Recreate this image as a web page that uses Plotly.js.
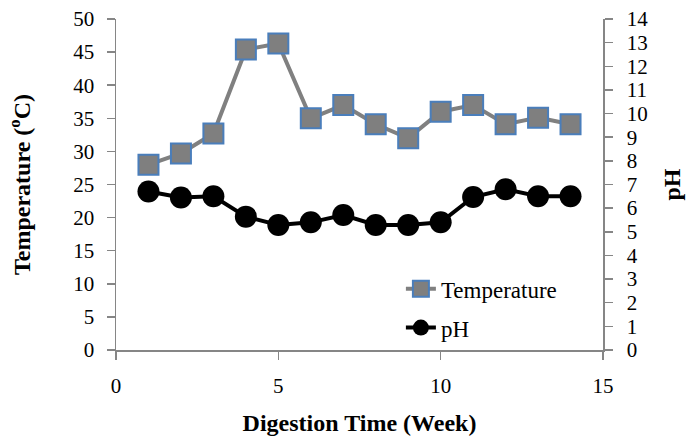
<!DOCTYPE html>
<html>
<head>
<meta charset="utf-8">
<script src="https://cdn.plot.ly/plotly-3.0.1.min.js"></script>
<style>html,body{margin:0;padding:0;background:#fff;}#chart{width:686px;height:436px;}</style>
</head>
<body>
<div id="chart"></div>
<script>
var weeks = [1, 2, 3, 4, 5, 6, 7, 8, 9, 10, 11, 12, 13, 14];
var temperature = [28, 29.7, 32.7, 45.4, 46.3, 35, 37, 34.1, 32, 36, 37, 34.1, 35.1, 34.1];
var pH = [6.7, 6.45, 6.5, 5.64, 5.29, 5.4, 5.71, 5.29, 5.29, 5.4, 6.47, 6.8, 6.5, 6.5];
var xTitle = 'Digestion Time (Week)';
var y1Title = 'Temperature (<sup>o</sup>C)';
var y2Title = 'pH';

var FONT = 'Liberation Serif, Times New Roman, serif';
var AX = '#868686';

var traces = [
  {
    x: weeks, y: temperature, name: 'Temperature', type: 'scatter', mode: 'lines+markers',
    yaxis: 'y', legendgroup: 'a',
    line: {color: '#808080', width: 4},
    marker: {symbol: 'square', size: 20, color: '#7f7f7f', line: {color: '#4a7ebb', width: 2}}
  },
  {
    x: weeks, y: pH, name: 'pH', type: 'scatter', mode: 'lines+markers',
    yaxis: 'y2', legendgroup: 'b',
    line: {color: '#000000', width: 4},
    marker: {symbol: 'circle', size: 22, color: '#000000'}
  }
];

var layout = {
  width: 686, height: 436,
  margin: {l: 116, r: 83, t: 19, b: 86},
  paper_bgcolor: '#ffffff', plot_bgcolor: '#ffffff',
  font: {family: FONT, color: '#000000', size: 21},
  showlegend: true,
  legend: {
    x: 0.585, y: 0.25, xanchor: 'left', yanchor: 'top',
    font: {family: FONT, size: 23, color: '#000'},
    bgcolor: 'rgba(0,0,0,0)', tracegroupgap: 6, traceorder: 'grouped'
  },
  xaxis: {
    range: [0, 15], dtick: 5, tick0: 0,
    showgrid: false, zeroline: false,
    showline: true, linecolor: AX, linewidth: 1.5,
    ticks: 'outside', ticklen: 8, tickcolor: AX, tickwidth: 1.5,
    ticklabelstandoff: 8,
    tickfont: {family: FONT, size: 21},
    title: {text: xTitle, font: {family: FONT, size: 24, weight: 'bold'}, standoff: 20}
  },
  yaxis: {
    range: [0, 50], dtick: 5, tick0: 0,
    showgrid: false, zeroline: false,
    showline: true, linecolor: AX, linewidth: 1.5,
    ticks: 'outside', ticklen: 8, tickcolor: AX, tickwidth: 1.5,
    ticklabelstandoff: 8,
    tickfont: {family: FONT, size: 21},
    title: {text: y1Title, font: {family: FONT, size: 24, weight: 'bold'}, standoff: 36}
  },
  yaxis2: {
    overlaying: 'y', side: 'right',
    range: [0, 14], dtick: 1, tick0: 0,
    showgrid: false, zeroline: false,
    showline: true, linecolor: AX, linewidth: 1.5,
    ticks: 'outside', ticklen: 8, tickcolor: AX, tickwidth: 1.5,
    ticklabelstandoff: 10,
    tickfont: {family: FONT, size: 21},
    title: {text: y2Title, font: {family: FONT, size: 24, weight: 'bold'}, standoff: 16}
  }
};

Plotly.newPlot('chart', traces, layout, {displayModeBar: false, staticPlot: true});
</script>
</body>
</html>
